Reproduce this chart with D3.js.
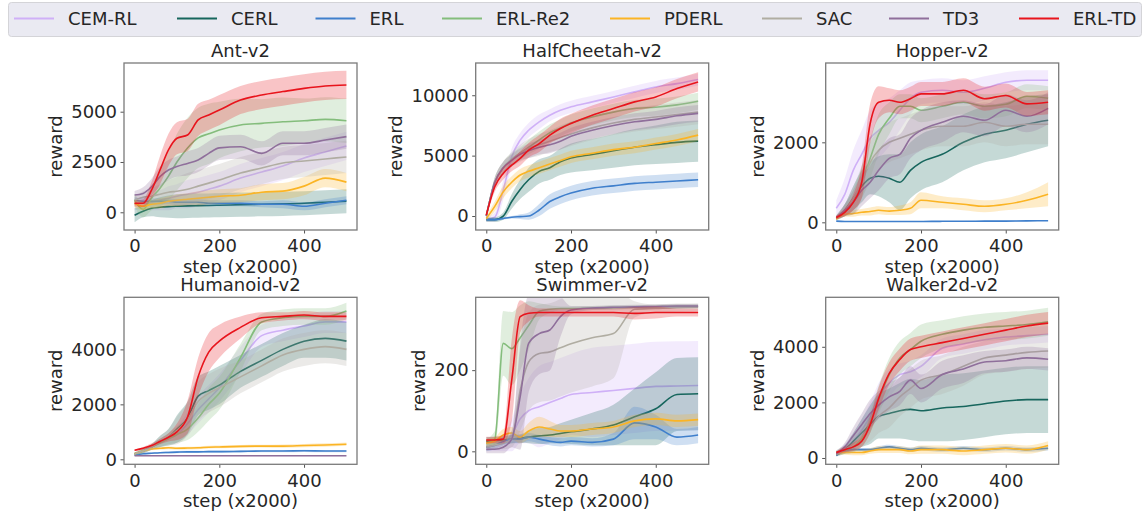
<!DOCTYPE html>
<html>
<head>
<meta charset="utf-8">
<script src="https://cdn.jsdelivr.net/npm/d3@7"></script>
<style>
body { margin: 0; background: #fff; }
text { font-family: "DejaVu Sans", sans-serif; fill: #262626; }
</style>
</head>
<body>
<svg id="chart" width="1145" height="515"></svg>
<script>
// data
var steps = [0, 20, 40, 60, 80, 100, 125, 150, 175, 200, 250, 300, 350, 400, 450, 500];
var methods = ["CEM-RL", "CERL", "ERL", "ERL-Re2", "PDERL", "SAC", "TD3", "ERL-TD"];
var envNames = ["Ant-v2", "HalfCheetah-v2", "Hopper-v2", "Humanoid-v2", "Swimmer-v2", "Walker2d-v2"];
var xTicks = [0, 200, 400];
var antTicks = [0, 2500, 5000];
var cheetahTicks = [0, 5000, 10000];
var hopperTicks = [0, 2000];
var humanoidTicks = [0, 2000, 4000];
var swimmerTicks = [0, 200];
var walkerTicks = [0, 2000, 4000];
var yLimits = [[-880, 7420], [-1157, 12670], [-192, 3983], [-182, 5896], [-32, 379.5], [-227, 5780]];

// rows follow the order of methods
var antMean = [
  [400, 450, 500, 600, 700, 800, 900, 1000, 1150, 1300, 1700, 2000, 2300, 2700, 3000, 3300],
  [-150, 50, 200, 250, 280, 300, 320, 330, 340, 350, 380, 400, 420, 450, 500, 550],
  [600, 550, 550, 550, 550, 500, 500, 500, 450, 450, 450, 400, 400, 300, 450, 600],
  [600, 150, 700, 1200, 1800, 2500, 3200, 3700, 3900, 4090, 4340, 4420, 4500, 4550, 4620, 4550],
  [450, 300, 400, 450, 550, 600, 650, 700, 750, 800, 850, 1000, 1050, 1300, 1700, 1500],
  [600, 750, 800, 900, 1000, 1050, 1150, 1300, 1450, 1600, 1950, 2200, 2450, 2550, 2650, 2750],
  [860, 940, 1270, 1770, 2100, 2270, 2430, 2600, 2930, 3200, 3260, 2930, 3430, 3430, 3590, 3760],
  [450, 450, 1100, 2100, 3100, 3680, 3840, 4590, 4840, 5080, 5580, 5830, 6000, 6160, 6280, 6330]
];
var antSpread = [
  [300, 300, 400, 500, 600, 600, 700, 700, 700, 700, 700, 700, 700, 700, 700, 700],
  [350, 300, 400, 500, 550, 600, 600, 600, 600, 600, 600, 600, 600, 600, 600, 600],
  [150, 150, 150, 150, 150, 150, 150, 150, 150, 150, 150, 150, 200, 200, 200, 200],
  [300, 400, 600, 900, 1200, 1400, 1500, 1500, 1500, 1400, 1300, 1200, 1200, 1100, 1100, 1100],
  [200, 200, 200, 250, 250, 300, 300, 350, 350, 350, 350, 400, 400, 450, 450, 450],
  [200, 300, 400, 500, 600, 700, 800, 800, 800, 800, 800, 800, 800, 800, 800, 800],
  [200, 300, 400, 500, 500, 500, 600, 600, 600, 600, 600, 600, 600, 600, 600, 600],
  [150, 200, 400, 700, 800, 800, 800, 800, 750, 750, 700, 700, 700, 700, 700, 700]
];

var cheetahMean = [
  [-300, -100, 2150, 4900, 6280, 7100, 7800, 8350, 8760, 9040, 9450, 9860, 10280, 10690, 10960, 11300],
  [-300, -300, 0, 1200, 2200, 3000, 3700, 4000, 4500, 4800, 5100, 5400, 5700, 5900, 6100, 6200],
  [-300, -300, -200, -100, -50, 0, 500, 1200, 1600, 1900, 2300, 2500, 2700, 2800, 2900, 3000],
  [0, 2800, 4000, 4700, 5200, 5700, 6300, 6900, 7300, 7700, 8200, 8600, 8900, 9000, 9200, 9500],
  [-200, 800, 2000, 2800, 3400, 3700, 4000, 4300, 4600, 4900, 5200, 5500, 5700, 6000, 6300, 6700],
  [0, 2800, 4000, 4700, 5200, 5600, 5900, 6200, 6500, 6800, 7300, 7700, 8000, 8200, 8400, 8600],
  [0, 2800, 4000, 4600, 5100, 5400, 5700, 5900, 6200, 6600, 7100, 7500, 7800, 8000, 8300, 8500],
  [80, 2420, 3530, 4210, 4770, 5450, 6000, 6700, 7250, 7660, 8350, 8900, 9450, 9860, 10550, 11100]
];
var cheetahSpread = [
  [200, 400, 800, 700, 600, 600, 600, 500, 500, 500, 500, 500, 500, 500, 500, 500],
  [200, 200, 300, 600, 800, 1000, 1000, 1000, 1100, 1200, 1300, 1400, 1500, 1600, 1700, 1700],
  [100, 100, 100, 100, 200, 300, 500, 600, 600, 600, 600, 600, 600, 600, 600, 600],
  [200, 400, 500, 500, 500, 600, 700, 700, 700, 700, 700, 700, 700, 700, 700, 700],
  [200, 400, 500, 500, 500, 500, 500, 500, 500, 500, 500, 500, 500, 500, 500, 500],
  [200, 400, 500, 600, 700, 800, 900, 900, 1000, 1000, 1000, 1000, 1000, 1000, 1000, 1000],
  [200, 400, 500, 500, 500, 600, 600, 700, 700, 700, 700, 700, 700, 700, 700, 700],
  [200, 400, 500, 500, 600, 600, 700, 700, 800, 800, 800, 800, 800, 800, 800, 800]
];

var hopperMean = [
  [350, 700, 1300, 1700, 2100, 2300, 2500, 2800, 3100, 3250, 3300, 3250, 3350, 3500, 3550, 3550],
  [100, 300, 600, 900, 1100, 1150, 1100, 1000, 1300, 1500, 1700, 2000, 2200, 2300, 2450, 2550],
  [30, 20, 20, 20, 20, 20, 20, 20, 20, 20, 25, 25, 30, 30, 35, 40],
  [120, 300, 500, 1000, 1600, 2200, 2600, 2900, 2900, 2800, 2900, 3000, 2900, 2950, 3150, 3100],
  [80, 200, 220, 250, 270, 300, 280, 300, 350, 550, 500, 450, 400, 450, 550, 700],
  [120, 300, 600, 1000, 1500, 1800, 2000, 2100, 2200, 2300, 2400, 2400, 2500, 2400, 2450, 2450],
  [120, 300, 500, 800, 1000, 1300, 1600, 1700, 2100, 2300, 2500, 2650, 2550, 2800, 2650, 2850],
  [120, 250, 500, 1000, 2470, 3000, 3050, 3000, 3090, 3210, 3210, 3300, 3090, 3170, 2960, 3000]
];
var hopperSpread = [
  [200, 400, 500, 600, 700, 700, 600, 500, 400, 300, 300, 300, 300, 250, 250, 250],
  [50, 150, 300, 400, 400, 500, 600, 700, 700, 700, 700, 700, 700, 700, 700, 650],
  [15, 10, 10, 10, 10, 10, 10, 10, 10, 10, 10, 10, 10, 10, 10, 10],
  [50, 150, 300, 400, 500, 500, 400, 300, 300, 300, 300, 300, 300, 300, 300, 300],
  [30, 60, 80, 80, 100, 100, 100, 120, 150, 200, 150, 150, 150, 150, 200, 300],
  [50, 150, 300, 400, 500, 500, 500, 500, 500, 500, 500, 500, 500, 500, 500, 500],
  [50, 150, 300, 400, 400, 500, 500, 500, 500, 500, 500, 400, 400, 400, 400, 400],
  [50, 100, 200, 400, 500, 400, 300, 300, 300, 300, 300, 300, 300, 300, 300, 300]
];

var humanoidMean = [
  [200, 300, 450, 600, 750, 900, 1300, 1800, 2200, 2600, 3600, 4500, 4700, 4850, 5000, 5000],
  [200, 300, 450, 650, 800, 1100, 1500, 2300, 2500, 2700, 3200, 3600, 4000, 4300, 4400, 4300],
  [150, 200, 220, 240, 250, 260, 270, 270, 280, 280, 290, 300, 300, 310, 300, 300],
  [200, 300, 450, 600, 750, 900, 1100, 1500, 2000, 2400, 3700, 5000, 5150, 5200, 5200, 5400],
  [200, 300, 380, 400, 420, 400, 410, 420, 440, 450, 470, 480, 480, 500, 520, 550],
  [200, 300, 450, 650, 800, 1050, 1450, 2100, 2400, 2600, 3000, 3400, 3800, 4000, 4100, 4000],
  [130, 130, 130, 130, 130, 130, 130, 130, 130, 130, 130, 130, 130, 130, 130, 130],
  [330, 400, 500, 650, 800, 1000, 1540, 3000, 3900, 4300, 4800, 5150, 5200, 5250, 5200, 5200]
];
var humanoidSpread = [
  [50, 80, 100, 150, 200, 300, 400, 500, 500, 500, 500, 400, 400, 400, 400, 400],
  [50, 80, 100, 200, 300, 500, 600, 700, 700, 700, 600, 600, 600, 600, 700, 700],
  [20, 30, 30, 30, 40, 40, 40, 40, 40, 40, 40, 40, 40, 40, 40, 40],
  [50, 80, 100, 150, 200, 300, 400, 500, 600, 600, 500, 300, 300, 300, 300, 300],
  [30, 40, 50, 50, 50, 50, 50, 50, 50, 50, 50, 50, 60, 60, 60, 60],
  [50, 80, 100, 200, 300, 500, 600, 700, 700, 700, 600, 600, 600, 600, 600, 600],
  [20, 20, 20, 20, 20, 20, 20, 20, 20, 20, 20, 20, 20, 20, 20, 20],
  [30, 50, 80, 100, 150, 300, 600, 700, 700, 600, 400, 200, 150, 150, 150, 150]
];

var swimmerMean = [
  [10, 15, 20, 40, 80, 100, 110, 120, 130, 140, 145, 150, 155, 160, 161, 162],
  [25, 26, 28, 30, 32, 35, 38, 40, 44, 48, 55, 65, 85, 105, 140, 142],
  [10, 15, 25, 30, 30, 35, 30, 25, 22, 25, 22, 30, 70, 60, 35, 40],
  [20, 30, 266, 253, 280, 310, 345, 350, 352, 352, 353, 354, 355, 356, 357, 357],
  [20, 25, 40, 45, 35, 50, 60, 55, 50, 50, 55, 60, 75, 80, 75, 78],
  [10, 15, 20, 30, 150, 220, 241, 245, 255, 265, 280, 290, 350, 352, 354, 355],
  [5, 5, 10, 30, 134, 266, 290, 299, 332, 348, 353, 355, 356, 357, 358, 358],
  [28, 28, 30, 175, 332, 340, 342, 342, 342, 342, 342, 342, 340, 342, 342, 342]
];
var swimmerSpread = [
  [10, 15, 20, 40, 60, 80, 100, 100, 100, 100, 110, 110, 110, 110, 110, 110],
  [10, 10, 10, 10, 10, 15, 20, 20, 25, 30, 40, 50, 70, 90, 90, 90],
  [10, 10, 10, 10, 10, 10, 10, 10, 10, 10, 10, 15, 40, 30, 20, 20],
  [10, 20, 80, 90, 80, 60, 20, 10, 5, 5, 5, 5, 5, 5, 5, 5],
  [10, 10, 15, 15, 15, 20, 25, 20, 15, 15, 15, 15, 15, 15, 15, 15],
  [10, 10, 15, 20, 100, 120, 120, 120, 120, 120, 120, 110, 20, 10, 10, 10],
  [10, 10, 15, 20, 130, 120, 100, 100, 50, 10, 5, 5, 5, 5, 5, 5],
  [8, 8, 10, 100, 40, 20, 10, 10, 10, 10, 10, 10, 15, 15, 10, 10]
];

var walkerMean = [
  [200, 350, 600, 1000, 1500, 2200, 2700, 3000, 3100, 3300, 3950, 4100, 4250, 4350, 4400, 4450],
  [100, 300, 600, 900, 1200, 1500, 1600, 1700, 1750, 1700, 1800, 1850, 1950, 2050, 2100, 2100],
  [100, 250, 300, 300, 300, 350, 400, 350, 300, 350, 300, 350, 300, 350, 300, 350],
  [200, 300, 400, 700, 1300, 2100, 3000, 3600, 3900, 4200, 4450, 4600, 4700, 4750, 4800, 4900],
  [150, 200, 200, 200, 250, 300, 300, 300, 250, 300, 300, 250, 300, 350, 300, 450],
  [150, 300, 500, 800, 1100, 1500, 1800, 2200, 2500, 2800, 3000, 3300, 3600, 3700, 3800, 3850],
  [150, 400, 800, 1200, 1600, 1900, 2200, 2400, 2800, 2500, 3000, 3200, 3450, 3500, 3600, 3550],
  [200, 300, 400, 600, 1200, 2140, 3040, 3540, 3900, 4000, 4150, 4300, 4450, 4600, 4750, 4850]
];
var walkerSpread = [
  [80, 150, 300, 400, 500, 500, 500, 400, 400, 400, 350, 350, 350, 300, 300, 300],
  [50, 150, 300, 500, 700, 800, 900, 1000, 1100, 1100, 1200, 1200, 1200, 1200, 1200, 1200],
  [40, 60, 60, 60, 60, 80, 80, 80, 80, 80, 80, 80, 80, 80, 80, 80],
  [80, 150, 200, 300, 400, 500, 600, 600, 600, 600, 500, 500, 500, 500, 500, 500],
  [50, 80, 100, 100, 100, 120, 120, 120, 120, 150, 150, 150, 150, 150, 150, 150],
  [80, 150, 300, 400, 500, 600, 700, 700, 700, 700, 700, 700, 600, 600, 600, 600],
  [80, 150, 300, 400, 500, 500, 500, 500, 500, 500, 500, 500, 400, 400, 400, 400],
  [50, 100, 150, 200, 300, 400, 400, 400, 400, 400, 400, 400, 400, 400, 400, 400]
];

var envMeans = [antMean, cheetahMean, hopperMean, humanoidMean, swimmerMean, walkerMean];
var envSpreads = [antSpread, cheetahSpread, hopperSpread, humanoidSpread, swimmerSpread, walkerSpread];
var yTickSets = [antTicks, cheetahTicks, hopperTicks, humanoidTicks, swimmerTicks, walkerTicks];

var colors = ["#cfb0f7", "#17665d", "#3f7fcc", "#84bd7c", "#fbb424", "#b0ada2", "#8f6f9b", "#e8141c"];

var svg = d3.select('#chart');

var W = 233, H = 167;
var lefts = [124, 475.7, 825.7];
var tops = [63, 297.3];
// legend handle positions (px)
var legendX = [14, 177, 315.5, 442, 610, 762, 889, 1019];

var x = d3.scaleLinear()
	.domain([-25, 525])
	.range([0, W]);

envNames.forEach(function(name, k) {
	var g = svg.append('g')
		.attr('transform', 'translate(' + lefts[k % 3] + ',' + tops[Math.floor(k / 3)] + ')');

	var y = d3.scaleLinear()
		.domain(yLimits[k])
		.range([H, 0]);

	g.append('clipPath').attr('id', 'clip' + k)
		.append('rect').attr('width', W).attr('height', H);

	var plot = g.append('g').attr('clip-path', 'url(#clip' + k + ')');

	methods.forEach(function(m, j) {
		var mean = envMeans[k][j];
		var sp = envSpreads[k][j];

		var band = d3.area()
			.x(function(d, i) { return x(steps[i]); })
			.y0(function(d, i) { return y(d - sp[i]); })
			.y1(function(d, i) { return y(d + sp[i]); })
			.curve(d3.curveMonotoneX);

		var line = d3.line()
			.x(function(d, i) { return x(steps[i]); })
			.y(function(d) { return y(d); })
			.curve(d3.curveMonotoneX);

		plot.append('path').datum(mean)
			.attr('d', band)
			.attr('fill', colors[j])
			.attr('fill-opacity', 0.25)
			.attr('stroke', 'none');

		plot.append('path').datum(mean)
			.attr('d', line)
			.attr('fill', 'none')
			.attr('stroke', colors[j])
			.attr('stroke-width', 1.6);
	});

	// axes
	var xa = g.append('g')
		.attr('transform', 'translate(0,' + H + ')')
		.call(d3.axisBottom(x).tickValues(xTicks).tickSize(3.5).tickPadding(6).tickFormat(d3.format('d')));

	var ya = g.append('g')
		.call(d3.axisLeft(y).tickValues(yTickSets[k]).tickSize(3.5).tickPadding(3.5).tickFormat(d3.format('d')));

	[xa, ya].forEach(function(a) {
		a.attr('font-size', null).attr('font-family', null);
		a.select('.domain').remove();
		a.selectAll('line').attr('stroke', '#555');
		a.selectAll('text').style('font-size', '18px').attr('fill', '#262626');
	});

	g.append('rect')
		.attr('width', W).attr('height', H)
		.attr('fill', 'none')
		.attr('stroke', '#7a7a7a')
		.attr('stroke-width', 1.3);

	var maxW = 0;
	ya.selectAll('text').each(function() {
		maxW = Math.max(maxW, this.getBBox().width);
	});

	g.append('text')
		.attr('transform', 'translate(' + (-(7 + maxW + 15.5)) + ',' + (H / 2) + ') rotate(-90)')
		.attr('text-anchor', 'middle')
		.attr('dy', '0.35em')
		.style('font-size', '18px')
		.text('reward');

	g.append('text')
		.attr('x', W / 2).attr('y', H + 43)
		.attr('text-anchor', 'middle')
		.style('font-size', '18px')
		.text('step (x2000)');

	g.append('text')
		.attr('x', W / 2).attr('y', -6)
		.attr('text-anchor', 'middle')
		.style('font-size', '18px')
		.text(name);
});

// legend
var legend = svg.append('g');
legend.append('rect')
	.attr('x', 8.5).attr('y', 2.5)
	.attr('width', 1133).attr('height', 34)
	.attr('rx', 3)
	.attr('fill', '#eaeaf2')
	.attr('stroke', '#d4d4d8');

methods.forEach(function(m, j) {
	var lx = legendX[j];
	legend.append('line')
		.attr('x1', lx).attr('x2', lx + 40)
		.attr('y1', 18.5).attr('y2', 18.5)
		.attr('stroke', colors[j])
		.attr('stroke-width', 2);
	legend.append('text')
		.attr('x', lx + 54).attr('y', 18.5)
		.attr('dy', '0.35em')
		.style('font-size', '18px')
		.text(m);
});
</script>
</body>
</html>
